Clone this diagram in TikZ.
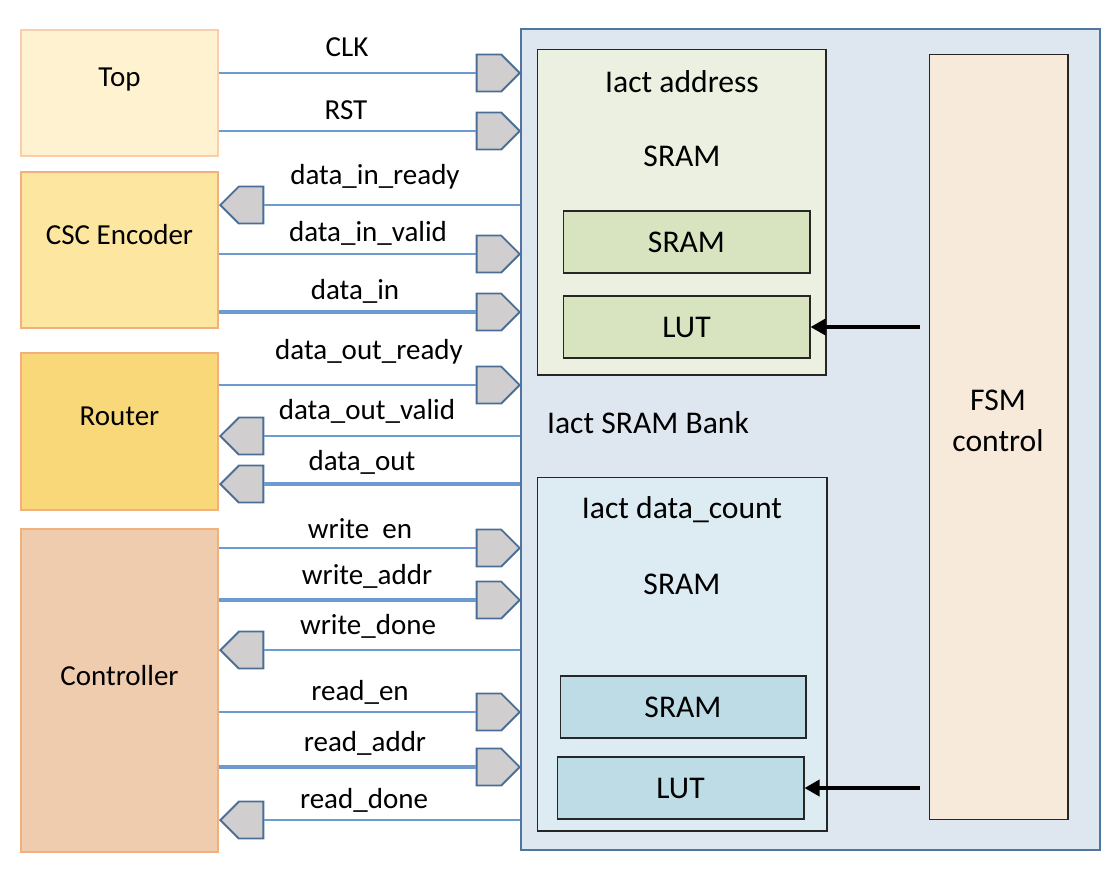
\documentclass[tikz,border=0pt]{standalone}
\usepackage{fontspec}
\setmainfont{Carlito}
\usepackage{xcolor}
\usetikzlibrary{arrows.meta,positioning,shapes.symbols}

\definecolor{topfill}{HTML}{FEF2D0}
\definecolor{topline}{HTML}{F8CFAA}
\definecolor{cscfill}{HTML}{FCE6A0}
\definecolor{rtrfill}{HTML}{F8D878}
\definecolor{ctlfill}{HTML}{F0CCAE}
\definecolor{orgline}{HTML}{F2B07E}
\definecolor{bankfill}{HTML}{DEE6EF}
\definecolor{bankline}{HTML}{4E76A0}
\definecolor{addrfill}{HTML}{EBF0E0}
\definecolor{addrin}{HTML}{D8E4BF}
\definecolor{cntfill}{HTML}{DDEBF3}
\definecolor{cntin}{HTML}{BEDCE6}
\definecolor{fsmfill}{HTML}{F8EADB}
\definecolor{wire}{HTML}{6C9BD2}
\definecolor{portfill}{HTML}{D0CECE}
\definecolor{portline}{HTML}{4A6E96}

\begin{document}
\begin{tikzpicture}[x=0.02cm,y=-0.02cm,>=Latex,
blk/.style={draw,line width=1.1pt,minimum width=3.94cm,text depth=0.62cm,font=\fontsize{16.5}{20}\selectfont},
mem/.style={draw=black!85,line width=.6pt,font=\fontsize{18}{22}\selectfont},
txt/.style={font=\fontsize{18}{22}\selectfont,align=center},
lab/.style={font=\fontsize{16.5}{20}\selectfont,inner sep=1pt},
portR/.style={signal,signal to=east,signal pointer angle=90,draw=portline,fill=portfill,line width=1.1pt,
  minimum width=.86cm,minimum height=.74cm,inner sep=0pt,anchor=east},
portL/.style={portR,signal to=west,anchor=west},
sig/.style={draw=wire,line width=.8pt},
bus/.style={draw=wire,line width=1.8pt},
ctl/.style={draw,line width=2pt,-{Triangle[length=3mm,width=3.2mm]},shorten <=1.8mm}]
\useasboundingbox (0,0) rectangle (1118,873);
% left side blocks
\node[blk,fill=topfill,draw=topline,minimum height=2.52cm] (top) at (119.5,93) {Top};
\node[blk,fill=cscfill,draw=orgline,minimum height=3.12cm] (csc) at (119.5,250) {CSC Encoder};
\node[blk,fill=rtrfill,draw=orgline,minimum height=3.14cm] (rtr) at (119.5,431.5) {Router};
\node[blk,fill=ctlfill,draw=orgline,minimum height=6.46cm] (ctrl) at (119.5,690.5) {Controller};
% SRAM bank
\node[draw=bankline,fill=bankfill,line width=1.3pt,minimum width=11.58cm,minimum height=16.42cm] (bank) at (810.5,439.5) {};
\node[mem,fill=addrfill,minimum width=5.78cm,minimum height=6.52cm] (abox) at (681.5,212) {};
\node[txt] at (682,82) {Iact address};
\node[txt] at (682,156) {SRAM};
\node[mem,fill=addrin,minimum width=4.94cm,minimum height=1.24cm] (asram) at (686.5,242) {SRAM};
\node[mem,fill=addrin,minimum width=4.94cm,minimum height=1.24cm] (alut) at (686.5,327) {LUT};
\node[txt] at (648,423) {Iact SRAM Bank};
\node[mem,fill=cntfill,minimum width=5.8cm,minimum height=7.08cm] (cbox) at (682,654) {};
\node[txt] at (682,510) {Iact data\_count};
\node[txt] at (682,584) {SRAM};
\node[mem,fill=cntin,minimum width=4.92cm,minimum height=1.24cm] (csram) at (683,707) {SRAM};
\node[mem,fill=cntin,minimum width=4.94cm,minimum height=1.24cm] (clut) at (680.5,788) {LUT};
\node[mem,fill=fsmfill,minimum width=2.78cm,minimum height=15.32cm] (fsm) at (998.5,437) {};
\node[txt,font=\fontsize{18}{23}\selectfont] at (998,421) {FSM\\control};
\draw[ctl] (fsm.west |- alut.east) -- (alut.east);
\draw[ctl] (fsm.west |- clut.east) -- (clut.east);
% ports and wires
\node[portR] (clk) at (521,73) {};
\draw[sig] (top.east |- clk.west) -- (clk.west);
\node[lab] at (347,47) {CLK};
\node[portR] (rst) at (521,131) {};
\draw[sig] (top.east |- rst.west) -- (rst.west);
\node[lab] at (346,110) {RST};
\node[portL] (dinr) at (219,205) {};
\draw[sig] (bank.west |- dinr.east) -- (dinr.east);
\node[lab] at (375,177) {data\_in\_ready};
\node[portR] (dinv) at (521,254) {};
\draw[sig] (csc.east |- dinv.west) -- (dinv.west);
\node[lab] at (368,233) {data\_in\_valid};
\node[portR] (din) at (521,312) {};
\draw[bus] (csc.east |- din.west) -- (din.west);
\node[lab] at (355,291) {data\_in};
\node[portR] (doutr) at (521,385) {};
\draw[sig] (rtr.east |- doutr.west) -- (doutr.west);
\node[lab] at (369,352) {data\_out\_ready};
\node[portL] (doutv) at (219,436) {};
\draw[sig] (bank.west |- doutv.east) -- (doutv.east);
\node[lab] at (367,411) {data\_out\_valid};
\node[portL] (dout) at (219,484) {};
\draw[bus] (bank.west |- dout.east) -- (dout.east);
\node[lab] at (362,462) {data\_out};
\node[portR] (wen) at (521,548) {};
\draw[sig] (ctrl.east |- wen.west) -- (wen.west);
\node[lab] at (360,529) {write\ \ en};
\node[portR] (wadr) at (521,600) {};
\draw[bus] (ctrl.east |- wadr.west) -- (wadr.west);
\node[lab] at (367,576) {write\_addr};
\node[portL] (wdone) at (219,650) {};
\draw[sig] (bank.west |- wdone.east) -- (wdone.east);
\node[lab] at (368,626) {write\_done};
\node[portR] (ren) at (521,712) {};
\draw[sig] (ctrl.east |- ren.west) -- (ren.west);
\node[lab] at (360,692) {read\_en};
\node[portR] (radr) at (521,767) {};
\draw[bus] (ctrl.east |- radr.west) -- (radr.west);
\node[lab] at (365,743) {read\_addr};
\node[portL] (rdone) at (219,820) {};
\draw[sig] (bank.west |- rdone.east) -- (rdone.east);
\node[lab] at (364,800) {read\_done};
\end{tikzpicture}
\end{document}
